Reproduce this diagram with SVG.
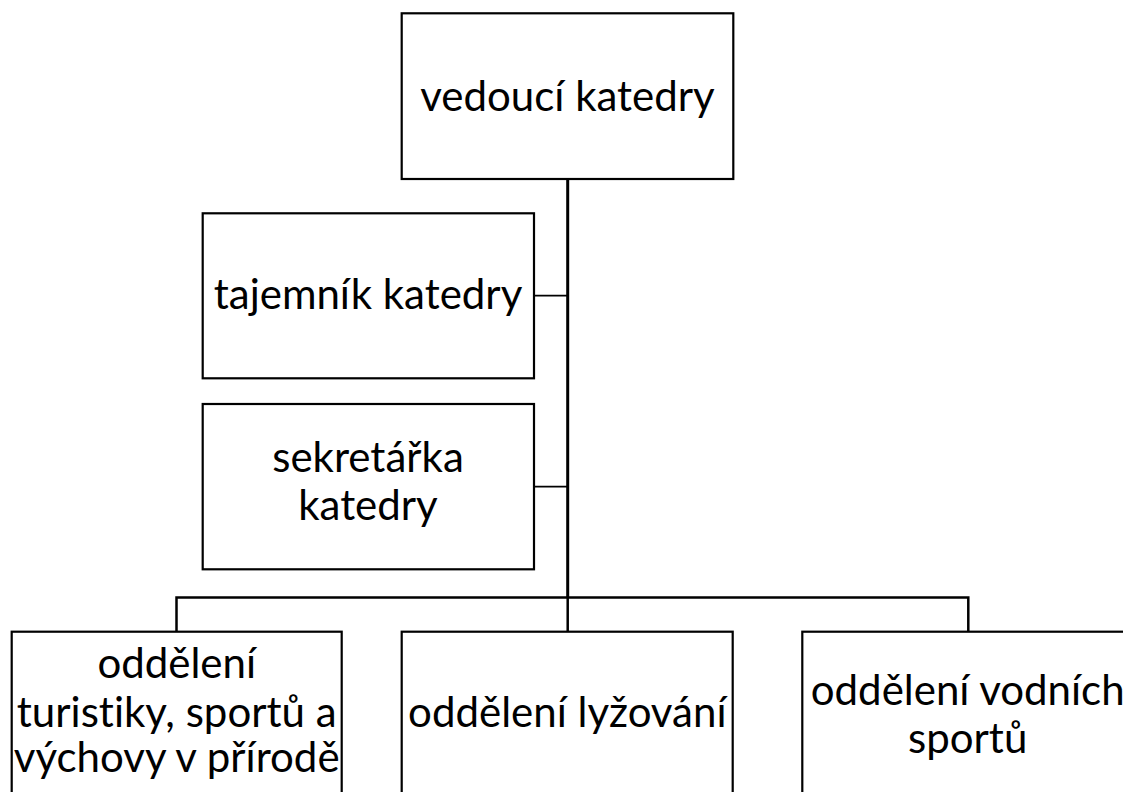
<svg xmlns="http://www.w3.org/2000/svg" width="1123" height="792" viewBox="0 0 1123 792">
<style>
.box{fill:#fff;stroke:#000;stroke-width:2.2}
.t{font-family:Lato,"Liberation Sans",sans-serif;font-size:42px;fill:#000;text-anchor:middle;font-variant-ligatures:none;font-feature-settings:"liga" 0,"dlig" 0}
.c{stroke:#000;fill:none}
</style>
<rect width="1123" height="792" fill="#fff"/>
<g id="connectors">
<line class="c" x1="567.7" y1="179" x2="567.7" y2="597.5" stroke-width="3"/>
<line class="c" x1="534" y1="295.7" x2="567.7" y2="295.7" stroke-width="1.7"/>
<line class="c" x1="534" y1="486.7" x2="567.7" y2="486.7" stroke-width="1.7"/>
<polyline class="c" points="176.5,631.7 176.5,597.5 968.3,597.5 968.3,631.7" stroke-width="2.5"/>
<line class="c" x1="567.7" y1="597.5" x2="567.7" y2="631.7" stroke-width="2.5"/>
</g>
<g id="vedouci">
<rect class="box" x="401.7" y="13.3" width="331.6" height="165.7"/>
<text class="t" x="567.5" y="111">vedoucí katedry</text>
</g>
<g id="tajemnik">
<rect class="box" x="202.7" y="213.3" width="331.3" height="165"/>
<text class="t" x="368" y="309">tajemník katedry</text>
</g>
<g id="sekretarka">
<rect class="box" x="202.7" y="404" width="331.3" height="165.3"/>
<text class="t" x="368" y="472">sekretářka</text>
<text class="t" x="368" y="520">katedry</text>
</g>
<g id="turistika">
<rect class="box" x="11.7" y="631.7" width="330" height="168"/>
<text class="t" x="176.7" y="678">oddělení</text>
<text class="t" x="176.7" y="726.5">turistiky, sportů a</text>
<text class="t" x="176.7" y="772">výchovy v přírodě</text>
</g>
<g id="lyzovani">
<rect class="box" x="401.7" y="631.7" width="331" height="168"/>
<text class="t" x="567.3" y="727">oddělení lyžování</text>
</g>
<g id="vodni">
<rect class="box" x="802.3" y="631.7" width="331" height="168"/>
<text class="t" x="967.7" y="705">oddělení vodních</text>
<text class="t" x="967.7" y="753">sportů</text>
</g>
</svg>
